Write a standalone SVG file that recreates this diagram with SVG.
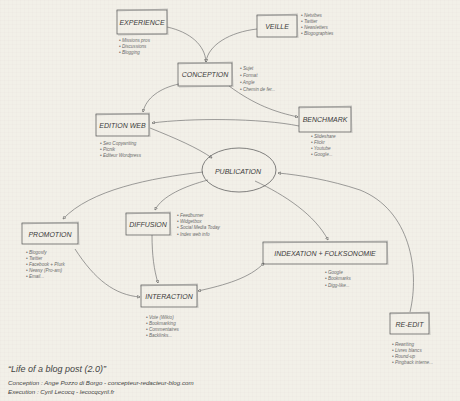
<svg xmlns="http://www.w3.org/2000/svg" width="460" height="401" viewBox="0 0 460 401">
<style>
.bg{fill:#f2f0e8}
.box{fill:none;stroke:#5a5a5a;stroke-width:0.75}
.box2{fill:none;stroke:#909090;stroke-width:0.45}
.lbl{font-family:"Liberation Sans",Arial,sans-serif;font-style:italic;font-size:7px;fill:#3a3a3a;text-anchor:middle}
.bul{font-family:"Liberation Sans",Arial,sans-serif;font-style:italic;font-size:4.6px;fill:#6a6a6a}
.con{fill:none;stroke:#747474;stroke-width:0.7}
.foot{font-family:"Liberation Sans",Arial,sans-serif;font-style:italic;fill:#444}
</style>
<defs>
<pattern id="grid" width="4" height="4" patternUnits="userSpaceOnUse">
<path d="M4,0 L0,0 0,4" fill="none" stroke="#e7e4db" stroke-width="0.4"/>
</pattern>
<marker id="ah" viewBox="0 0 8 8" refX="7" refY="4" markerWidth="5" markerHeight="5" orient="auto">
<path d="M1,1 L7,4 L1,7 Z" fill="#f2f0e8" stroke="#555" stroke-width="1.2"/>
</marker>
<marker id="as" viewBox="0 0 8 8" refX="1" refY="4" markerWidth="5" markerHeight="5" orient="auto">
<path d="M7,1 L1,4 L7,7 Z" fill="#f2f0e8" stroke="#555" stroke-width="1.2"/>
</marker>
</defs>
<rect class="bg" width="460" height="401"/>
<rect width="460" height="401" fill="url(#grid)"/>

<g id="connectors">
<path class="con" d="M167,27 C190,32 205,45 206,62" marker-end="url(#ah)"/>
<path class="con" d="M257,29 C230,32 208,45 206,62" marker-end="url(#ah)"/>
<path class="con" d="M179,84 C160,88 146,98 143,112" marker-end="url(#ah)"/>
<path class="con" d="M229,86 C255,105 275,112 298,117" marker-end="url(#ah)"/>
<path class="con" d="M299,126 C260,118 190,118 152,123" marker-end="url(#ah)"/>
<path class="con" d="M150,128 C175,138 198,148 212,158" marker-end="url(#ah)"/>
<path class="con" d="M203,172 C150,178 90,190 63,219" marker-end="url(#ah)"/>
<path class="con" d="M208,180 C185,186 162,196 155,210" marker-end="url(#ah)"/>
<path class="con" d="M152,235 C152,255 154,270 158,283" marker-end="url(#ah)"/>
<path class="con" d="M75,249 C95,280 115,295 140,297" marker-end="url(#ah)"/>
<path class="con" d="M198,291 C225,285 250,278 264,263" marker-start="url(#as)" marker-end="url(#ah)"/>
<path class="con" d="M255,181 C285,195 315,215 328,240" marker-end="url(#ah)"/>
<path class="con" d="M410,312 C420,270 410,210 360,190 C330,180 300,175 278,173" marker-end="url(#ah)"/>
</g>

<g id="experience">
<rect class="box" x="117" y="10" width="50" height="24"/>
<path class="box2" d="M116,11 L168,9 M167,9 L168,35 M118,35 L166,34"/>
<text class="lbl" x="142" y="25">EXPERIENCE</text>
<text class="bul" x="119" y="42">• Missions pros</text>
<text class="bul" x="119" y="48">• Discussions</text>
<text class="bul" x="119" y="54">• Blogging</text>
</g>

<g id="veille">
<rect class="box" x="257" y="15" width="40" height="22"/>
<path class="box2" d="M256,16 L298,14 M297,15 L298,38"/>
<text class="lbl" x="277" y="29">VEILLE</text>
<text class="bul" x="301" y="17">• Netvibes</text>
<text class="bul" x="301" y="23">• Twitter</text>
<text class="bul" x="301" y="29">• Newsletters</text>
<text class="bul" x="301" y="35">• Blogographies</text>
</g>

<g id="conception">
<rect class="box" x="178" y="63" width="54" height="23"/>
<path class="box2" d="M177,64 L233,62 M232,62 L233,87 M179,87 L231,86"/>
<text class="lbl" x="205" y="77">CONCEPTION</text>
<text class="bul" x="240" y="70">• Sujet</text>
<text class="bul" x="240" y="77">• Format</text>
<text class="bul" x="240" y="84">• Angle</text>
<text class="bul" x="240" y="91">• Chemin de fer...</text>
</g>

<g id="edition-web">
<rect class="box" x="96" y="114" width="53" height="22"/>
<path class="box2" d="M95,115 L150,113 M149,113 L150,137"/>
<text class="lbl" x="122.5" y="128">EDITION WEB</text>
<text class="bul" x="100" y="145">• Seo Copywriting</text>
<text class="bul" x="100" y="151">• Picnik</text>
<text class="bul" x="100" y="157">• Editeur Wordpress</text>
</g>

<g id="benchmark">
<rect class="box" x="299" y="107" width="52" height="25"/>
<path class="box2" d="M298,108 L352,106 M351,106 L352,133"/>
<text class="lbl" x="325" y="122">BENCHMARK</text>
<text class="bul" x="311" y="138">• Slideshare</text>
<text class="bul" x="311" y="144">• Flickr</text>
<text class="bul" x="311" y="150">• Youtube</text>
<text class="bul" x="311" y="156">• Google...</text>
</g>

<g id="publication">
<ellipse class="box" cx="239" cy="170" rx="37" ry="22"/>
<text class="lbl" x="238" y="174">PUBLICATION</text>
</g>

<g id="promotion">
<rect class="box" x="22" y="223" width="56" height="21"/>
<path class="box2" d="M21,224 L79,222 M78,222 L79,245"/>
<text class="lbl" x="50" y="237">PROMOTION</text>
<text class="bul" x="26" y="254">• Blogosfy</text>
<text class="bul" x="26" y="260">• Twitter</text>
<text class="bul" x="26" y="266">• Facebook + Plurk</text>
<text class="bul" x="26" y="272">• Newsy (Pro-am)</text>
<text class="bul" x="26" y="278">• Email...</text>
</g>

<g id="diffusion">
<rect class="box" x="126" y="213" width="44" height="22"/>
<path class="box2" d="M125,214 L171,212 M170,212 L171,236"/>
<text class="lbl" x="148" y="227">DIFFUSION</text>
<text class="bul" x="177" y="217">• Feedburner</text>
<text class="bul" x="177" y="223">• Widgetbox</text>
<text class="bul" x="177" y="229">• Social Media Today</text>
<text class="bul" x="177" y="236">• Index web info</text>
</g>

<g id="interaction">
<rect class="box" x="141" y="285" width="56" height="22"/>
<path class="box2" d="M140,286 L198,284 M197,284 L198,308"/>
<text class="lbl" x="169" y="299">INTERACTION</text>
<text class="bul" x="146" y="319">• Vote (Wikio)</text>
<text class="bul" x="146" y="325">• Bookmarking</text>
<text class="bul" x="146" y="331">• Commentaires</text>
<text class="bul" x="146" y="337">• Backlinks...</text>
</g>

<g id="indexation">
<rect class="box" x="263" y="242" width="124" height="22"/>
<path class="box2" d="M262,243 L388,241 M387,241 L388,265"/>
<text class="lbl" x="325" y="256">INDEXATION + FOLKSONOMIE</text>
<text class="bul" x="325" y="274">• Google</text>
<text class="bul" x="325" y="280">• Bookmarks</text>
<text class="bul" x="325" y="287">• Digg-like...</text>
</g>

<g id="re-edit">
<rect class="box" x="390" y="313" width="39" height="21"/>
<path class="box2" d="M389,314 L430,312 M429,312 L430,335"/>
<text class="lbl" x="409.5" y="327">RE-EDIT</text>
<text class="bul" x="392" y="346">• Rewriting</text>
<text class="bul" x="392" y="352">• Livres blancs</text>
<text class="bul" x="392" y="358">• Round-up</text>
<text class="bul" x="392" y="364">• Pingback interne...</text>
</g>

<g id="footer">
<text class="foot" x="8" y="372" font-size="9">“Life of a blog post (2.0)”</text>
<text class="foot" x="8" y="385" font-size="6.2">Conception : Ange Pozzo di Borgo - concepteur-redacteur-blog.com</text>
<text class="foot" x="8" y="394" font-size="6.2">Execution : Cyril Lecocq - lecocqcyril.fr</text>
</g>
</svg>
